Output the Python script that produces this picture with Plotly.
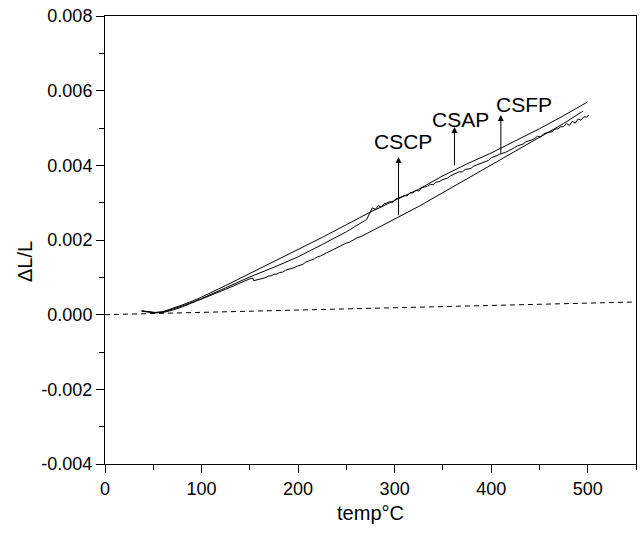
import plotly.graph_objects as go

# ---- data (temperature in °C, ΔL/L in units of 1e-3) ----
csap_x = [38, 45, 52, 60, 70, 80, 90, 100, 125, 150, 175, 200, 225, 250, 275, 300, 325, 350, 375, 400, 425, 450, 475, 500]
csap_y = [0.10, 0.08, 0.06, 0.08, 0.16, 0.26, 0.36, 0.47, 0.78, 1.10, 1.42, 1.73, 2.07, 2.41, 2.75, 3.06, 3.36, 3.72, 4.04, 4.33, 4.65, 4.98, 5.33, 5.70]

csfp_x = [38, 45, 52, 60, 70, 80, 90, 100, 125, 150, 175, 200, 225, 250, 271,
          274, 277, 280, 283, 286, 289, 292, 295, 298, 301, 304, 307, 310, 313, 316, 319, 322, 325, 328,
          331, 334, 337, 340, 343, 346, 349, 352, 355, 358, 361, 364, 367, 370, 373, 376, 379, 382, 385,
          388, 391, 394, 397, 400, 403, 406, 409, 412, 415, 418, 421, 424, 427, 430, 433, 436, 439, 442,
          445, 448, 451, 454, 457, 460, 463, 466, 469, 472, 475, 478, 481, 484, 487, 490, 493, 496, 499, 501]
csfp_y = [0.10, 0.08, 0.05, 0.07, 0.14, 0.23, 0.33, 0.43, 0.72, 1.01, 1.27, 1.55, 1.88, 2.22, 2.55,
          2.72, 2.86, 2.82, 2.92, 2.88, 2.97, 2.99, 3.03, 3.00, 3.10, 3.12, 3.15, 3.19, 3.18, 3.27, 3.26, 3.33, 3.31, 3.40,
          3.42, 3.44, 3.49, 3.48, 3.55, 3.56, 3.61, 3.63, 3.66, 3.72, 3.76, 3.78, 3.83, 3.82, 3.89, 3.90, 3.92, 3.98, 4.01,
          4.04, 4.08, 4.10, 4.13, 4.20, 4.22, 4.26, 4.30, 4.32, 4.35, 4.39, 4.42, 4.47, 4.52, 4.54, 4.57, 4.63, 4.65, 4.68,
          4.72, 4.78, 4.76, 4.83, 4.87, 4.89, 4.90, 4.97, 4.98, 5.03, 5.04, 5.12, 5.07, 5.18, 5.13, 5.24, 5.21, 5.30, 5.29, 5.35]

cscp_x = [38, 45, 52, 60, 70, 80, 90, 100, 125, 150, 153,
          154, 157, 160, 163, 166, 169, 172, 175, 178, 181, 184, 187, 190, 193, 196, 199, 202, 205, 208,
          211, 214, 217, 220, 223, 226, 229, 232, 235, 238, 241, 244, 247, 250, 253, 256, 259, 262, 265,
          268, 271, 274, 277, 280, 283, 286, 289, 292,
          300, 305, 325, 350, 375, 400, 425, 450, 475, 495]
cscp_y = [0.09, 0.07, 0.05, 0.06, 0.12, 0.21, 0.31, 0.41, 0.68, 0.96, 0.98,
          0.91, 0.93, 0.95, 0.98, 0.99, 1.03, 1.04, 1.08, 1.09, 1.13, 1.14, 1.19, 1.21, 1.24, 1.26, 1.30, 1.33, 1.35, 1.41,
          1.43, 1.47, 1.50, 1.55, 1.57, 1.61, 1.65, 1.68, 1.73, 1.75, 1.80, 1.83, 1.87, 1.92, 1.94, 1.99, 2.02, 2.07, 2.09,
          2.14, 2.17, 2.21, 2.25, 2.28, 2.33, 2.36, 2.40, 2.44,
          2.55, 2.62, 2.90, 3.27, 3.64, 4.01, 4.38, 4.75, 5.12, 5.45]

ref_x = [0, 550]
ref_y = [0.0, 0.34]

labels = ["CSCP", "CSAP", "CSFP"]
arrow_x = [304, 362, 410]
arrow_base = [2.62, 3.96, 4.28]
arrow_tip = [4.22, 5.03, 5.35]
label_x = [309, 368, 434]
label_y = [4.64, 5.24, 5.64]

x_ticks = [0, 100, 200, 300, 400, 500]
y_ticks = [-0.004, -0.002, 0.000, 0.002, 0.004, 0.006, 0.008]
y_ticktext = ["-0.004", "-0.002", "0.000", "0.002", "0.004", "0.006", "0.008"]

s = 1e-3
fig = go.Figure()
line = dict(color="black", width=1)
for xs, ys in [(csap_x, csap_y), (csfp_x, csfp_y), (cscp_x, cscp_y)]:
    fig.add_trace(go.Scatter(x=xs, y=[v * s for v in ys], mode="lines", line=line, showlegend=False))
fig.add_trace(go.Scatter(x=ref_x, y=[v * s for v in ref_y], mode="lines",
                         line=dict(color="black", width=1, dash="5px,4px"), showlegend=False))

W, H = 640, 533
ml, mr, mt, mb = 105, 4, 16, 69

anns = []
for lab, ax_, b, t, lx, ly in zip(labels, arrow_x, arrow_base, arrow_tip, label_x, label_y):
    anns.append(dict(x=ax_, y=t * s, ax=ax_, ay=b * s, xref="x", yref="y", axref="x", ayref="y",
                     text="", showarrow=True, arrowhead=2, arrowsize=1.2, arrowwidth=1, arrowcolor="black"))
    anns.append(dict(x=lx, y=ly * s, xref="x", yref="y", text=lab, showarrow=False,
                     font=dict(family="Liberation Sans, Arial", size=21, color="black")))
anns.append(dict(x=(25 - ml) / (W - ml - mr), y=(H - mb - 262) / (H - mt - mb),
                 xref="paper", yref="paper", xanchor="center", yanchor="middle",
                 text="ΔL/L", showarrow=False, textangle=-90,
                 font=dict(family="Liberation Sans, Arial", size=20, color="black")))

axis_common = dict(showgrid=False, zeroline=False, showline=True, linecolor="black", linewidth=1,
                   mirror=True, ticks="outside", ticklen=8, tickwidth=1, tickcolor="black",
                   tickfont=dict(family="Liberation Sans, Arial", size=18, color="black"))
fig.update_layout(
    width=W, height=H, margin=dict(l=ml, r=mr, t=mt, b=mb),
    paper_bgcolor="white", plot_bgcolor="white",
    xaxis=dict(range=[0, 550], tickvals=x_ticks,
               minor=dict(dtick=50, ticklen=5, tickcolor="black", ticks="outside"),
               title=dict(text="temp°C", font=dict(family="Liberation Sans, Arial", size=20, color="black"), standoff=8),
               **axis_common),
    yaxis=dict(range=[-0.004, 0.008], tickvals=y_ticks, ticktext=y_ticktext,
               minor=dict(dtick=0.001, ticklen=5, tickcolor="black", ticks="outside"),
               **axis_common),
    annotations=anns,
)
fig.write_html("out.html")
